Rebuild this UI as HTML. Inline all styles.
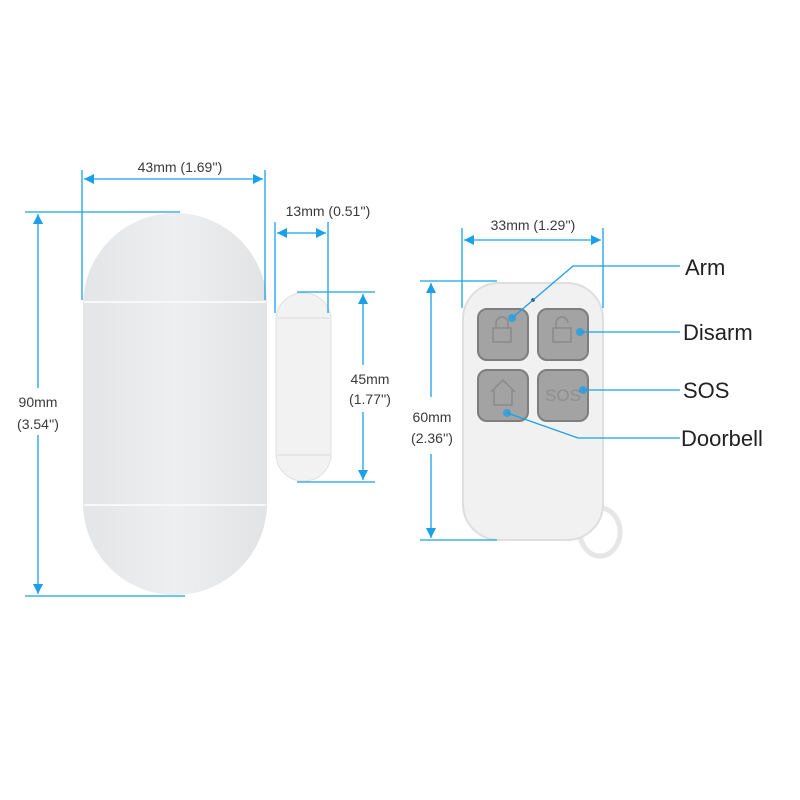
<!DOCTYPE html><html><head><style>body{margin:0;background:#fff}svg{display:block}</style></head><body>
<svg width="800" height="800" viewBox="0 0 800 800" xmlns="http://www.w3.org/2000/svg" font-family="Liberation Sans, sans-serif">
<defs>
<marker id="a" viewBox="0 0 10 10" refX="10" refY="5" markerWidth="10" markerHeight="10" markerUnits="userSpaceOnUse" orient="auto-start-reverse"><path d="M0,0L10,5L0,10z" fill="#1aa0e8"/></marker>
<linearGradient id="g" x1="0" x2="1"><stop offset="0" stop-color="#e4e5e6"/><stop offset="0.5" stop-color="#eeeff0"/><stop offset="1" stop-color="#e2e3e4"/></linearGradient>
</defs>
<rect x="83" y="213" width="184" height="382" rx="92" fill="url(#g)"/>
<line x1="84" y1="302" x2="266" y2="302" stroke="#f8f8f8" stroke-width="2"/>
<line x1="84" y1="505" x2="266" y2="505" stroke="#f8f8f8" stroke-width="2"/>
<rect x="276" y="293" width="55" height="188" rx="27" fill="#f2f2f3" stroke="#e0e0e2"/>
<line x1="277" y1="318" x2="330" y2="318" stroke="#dcdcdc"/>
<line x1="277" y1="455" x2="330" y2="455" stroke="#dcdcdc"/>
<ellipse cx="600" cy="532" rx="20" ry="24" fill="none" stroke="#e6e6e6" stroke-width="5"/>
<rect x="463" y="283" width="140" height="257" rx="36" fill="#f1f1f2" stroke="#dedede" stroke-width="2"/>
<circle cx="533" cy="300" r="1.8" fill="#222"/>
<g fill="#a3a3a3" stroke="#7e7e7e" stroke-width="2">
<rect x="478" y="309" width="50" height="51" rx="9"/>
<rect x="538" y="309" width="50" height="51" rx="9"/>
<rect x="478" y="370" width="50" height="51" rx="9"/>
<rect x="538" y="370" width="50" height="51" rx="9"/>
</g>
<g fill="none" stroke="#8a8a8a" stroke-width="1.5">
<rect x="493" y="328" width="18" height="14"/><path d="M496,328v-5a6,6 0 0 1 12,0v5"/>
<rect x="553" y="328" width="18" height="14"/><path d="M556,328v-5a6,6 0 0 1 12,0"/>
<path d="M491,392l12,-12l12,12M494,390v15h18v-15"/>
</g>
<text x="563" y="401" font-size="17" fill="#8e8e8e" text-anchor="middle">SOS</text>
<g stroke="#1aa0e8" stroke-width="1.3" fill="none">
<line x1="82" y1="170" x2="82" y2="300"/><line x1="265" y1="170" x2="265" y2="300"/>
<line x1="84" y1="179" x2="263" y2="179" marker-start="url(#a)" marker-end="url(#a)"/>
<line x1="25" y1="212" x2="180" y2="212"/><line x1="25" y1="596" x2="185" y2="596"/>
<line x1="38" y1="214" x2="38" y2="388" marker-start="url(#a)"/><line x1="38" y1="435" x2="38" y2="594" marker-end="url(#a)"/>
<line x1="275" y1="222" x2="275" y2="313"/><line x1="328" y1="222" x2="328" y2="313"/>
<line x1="277" y1="233" x2="326" y2="233" marker-start="url(#a)" marker-end="url(#a)"/>
<line x1="297" y1="292" x2="375" y2="292"/><line x1="297" y1="482" x2="375" y2="482"/>
<line x1="363" y1="294" x2="363" y2="365" marker-start="url(#a)"/><line x1="363" y1="412" x2="363" y2="480" marker-end="url(#a)"/>
<line x1="462" y1="228" x2="462" y2="308"/><line x1="603" y1="228" x2="603" y2="308"/>
<line x1="464" y1="240" x2="601" y2="240" marker-start="url(#a)" marker-end="url(#a)"/>
<line x1="420" y1="281" x2="497" y2="281"/><line x1="420" y1="540" x2="497" y2="540"/>
<line x1="431" y1="283" x2="431" y2="397" marker-start="url(#a)"/><line x1="431" y1="454" x2="431" y2="538" marker-end="url(#a)"/>
<polyline points="512,318 573,266 680,266"/>
<line x1="580" y1="332" x2="680" y2="332"/>
<line x1="583" y1="390" x2="680" y2="390"/>
<polyline points="507,413 578,438 680,438"/>
</g>
<g fill="#1aa0e8" opacity="0.75"><circle cx="512" cy="318" r="4"/><circle cx="580" cy="332" r="4"/><circle cx="583" cy="390" r="4"/><circle cx="507" cy="413" r="4"/></g>
<g fill="#3a3a3a" font-size="14" text-anchor="middle">
<text x="180" y="172">43mm (1.69'')</text>
<text x="38" y="407">90mm</text><text x="38" y="429">(3.54'')</text>
<text x="328" y="216">13mm (0.51'')</text>
<text x="370" y="384">45mm</text><text x="370" y="404">(1.77'')</text>
<text x="533" y="230">33mm (1.29'')</text>
<text x="432" y="422">60mm</text><text x="432" y="443">(2.36'')</text>
</g>
<g fill="#222" font-size="22">
<text x="685" y="275">Arm</text>
<text x="683" y="340">Disarm</text>
<text x="683" y="398">SOS</text>
<text x="681" y="446">Doorbell</text>
</g>
</svg></body></html>
